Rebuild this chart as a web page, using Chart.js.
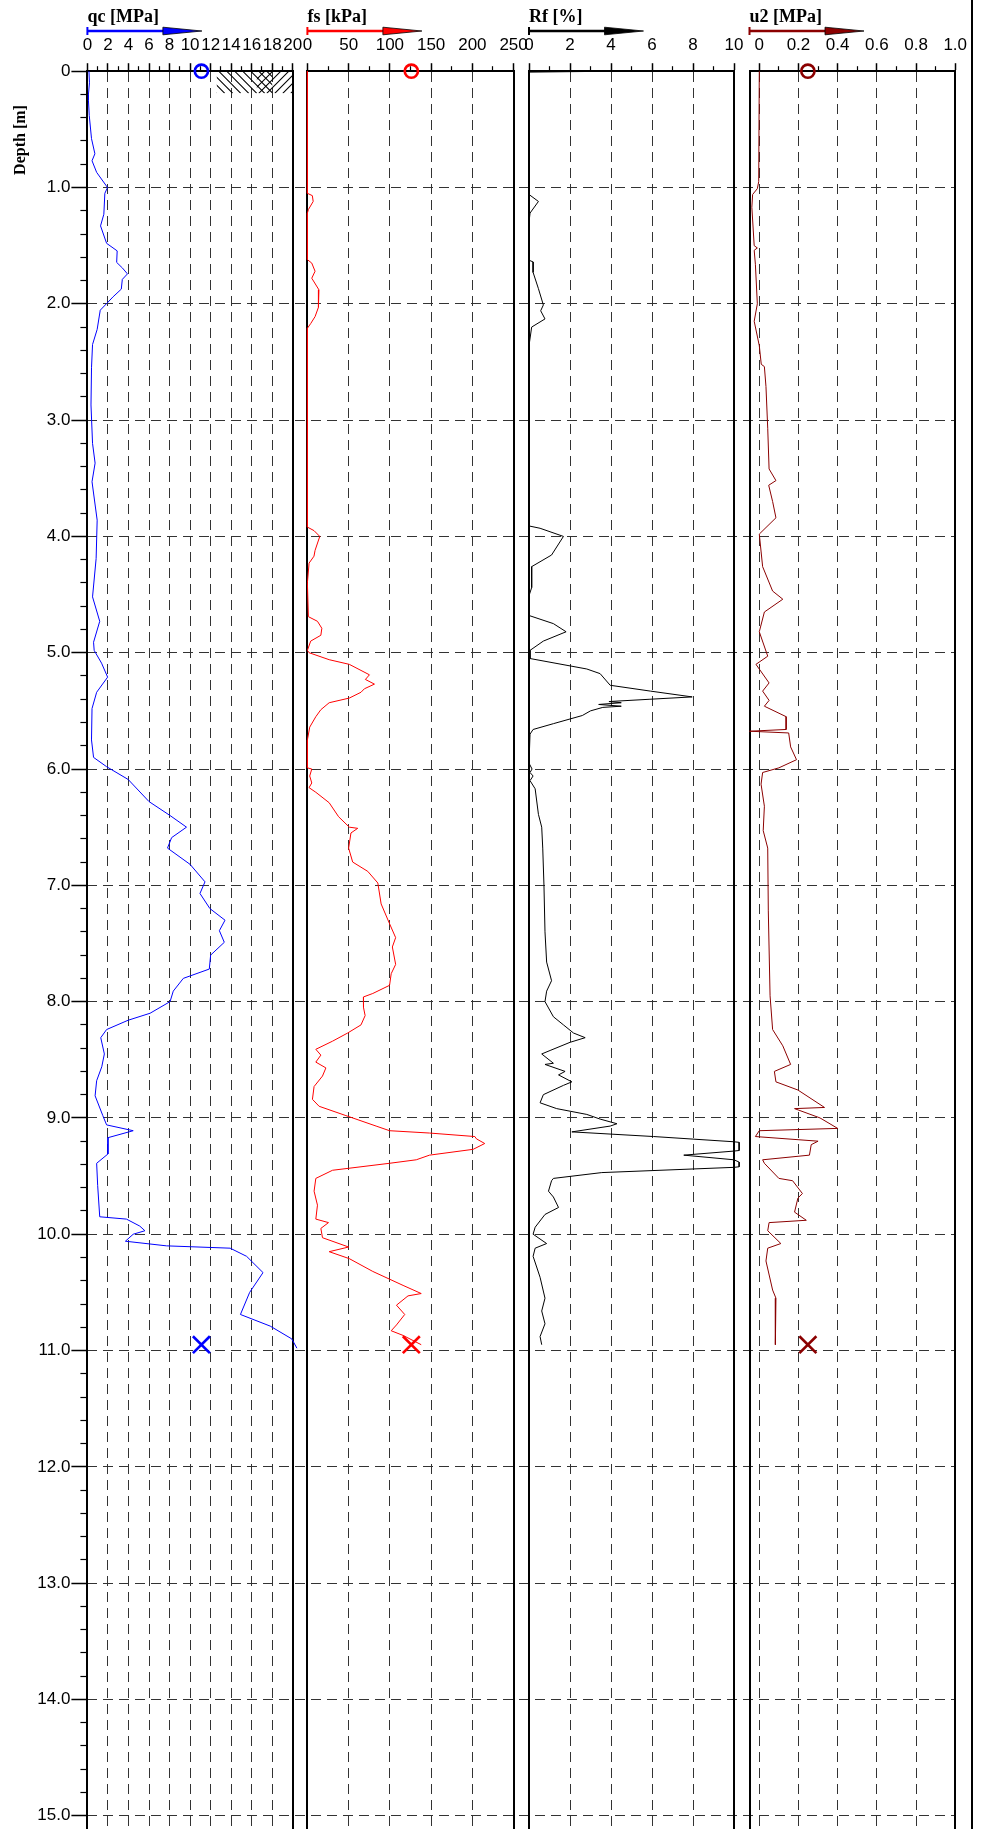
<!DOCTYPE html>
<html>
<head>
<meta charset="utf-8">
<script src="https://cdn.jsdelivr.net/npm/chart.js@4.4.1/dist/chart.umd.min.js"></script>
<style>
html,body{margin:0;padding:0;background:#fff;}
#wrap{position:relative;width:986px;height:1829px;overflow:hidden;background:#fff;}
#wrap canvas{position:absolute;left:0;top:0;}
</style>
</head>
<body>
<div id="wrap">
<canvas id="bg" width="986" height="1829"></canvas>
<canvas id="cQc" width="986" height="1829"></canvas>
<canvas id="cFs" width="986" height="1829"></canvas>
<canvas id="cRf" width="986" height="1829"></canvas>
<canvas id="cU2" width="986" height="1829"></canvas>
</div>
<script>
// ---------------- DATA ----------------
const depthTicks = [0,1,2,3,4,5,6,7,8,9,10,11,12,13,14,15];
const depthMinor = [0.2,0.4,0.6,0.8,1.2,1.4,1.6,1.8,2.2,2.4,2.6,2.8,3.2,3.4,3.6,3.8,4.2,4.4,4.6,4.8,5.2,5.4,5.6,5.8,6.2,6.4,6.6,6.8,7.2,7.4,7.6,7.8,8.2,8.4,8.6,8.8,9.2,9.4,9.6,9.8,10.2,10.4,10.6,10.8,11.2,11.4,11.6,11.8,12.2,12.4,12.6,12.8,13.2,13.4,13.6,13.8,14.2,14.4,14.6,14.8,15.2];

const qcTicks = [0,2,4,6,8,10,12,14,16,18,20];
const qcMinor = [1,3,5,7,9,11,13,15,17,19];
const fsTicks = [0,50,100,150,200,250];
const fsMinor = [25,75,125,175,225];
const rfTicks = [0,2,4,6,8,10];
const rfMinor = [1,3,5,7,9];
const u2Ticks = [0,0.2,0.4,0.6,0.8,1.0];
const u2Minor = [0.1,0.3,0.5,0.7,0.9];

const qcDepth = [0,0.1,0.2,0.25,0.38,0.58,0.71,0.77,0.87,1.0,1.05,1.23,1.33,1.48,1.545,1.644,1.693,1.743,1.79,1.874,1.94,2.0,2.055,2.22,2.35,2.55,2.87,3.2,3.37,3.53,3.86,4.19,4.52,4.73,4.91,4.98,5.09,5.21,5.34,5.48,5.75,5.9,5.98,6.09,6.28,6.4,6.5,6.59,6.68,6.82,6.97,7.07,7.2,7.3,7.39,7.49,7.6,7.72,7.8,7.91,8.0,8.1,8.16,8.24,8.31,8.45,8.56,8.68,8.81,8.98,9.06,9.11,9.17,9.31,9.39,9.58,9.85,9.87,9.93,9.97,10.0,10.06,10.1,10.12,10.19,10.33,10.5,10.69,10.79,10.9,10.98];
const qcValues = [0.15,0.2,0.1,0.1,0.18,0.4,0.73,0.45,0.9,1.96,1.7,1.6,1.28,1.87,2.9,2.85,3.42,3.9,3.4,3.3,2.5,1.85,1.25,0.95,0.5,0.4,0.35,0.5,0.75,0.45,0.95,0.85,0.5,1.2,0.6,0.66,1.38,1.97,0.9,0.45,0.4,0.6,1.87,3.97,6.0,8.05,9.65,8.2,7.8,10.0,11.45,10.96,11.93,13.4,12.85,13.33,12.0,11.87,9.34,8.36,8.05,6.1,3.97,1.87,1.3,1.65,1.4,0.9,0.75,1.5,1.87,4.46,2.0,2.0,0.9,1.0,1.2,3.8,5.1,5.6,4.46,3.7,7.7,13.9,15.5,17.1,15.8,14.9,17.8,19.9,20.4];

const fsDepth = [0,1.05,1.07,1.12,1.19,1.22,1.62,1.65,1.72,1.78,1.88,2.03,2.11,2.17,2.21,3.92,3.95,4.0,4.12,4.17,4.23,4.4,4.69,4.73,4.79,4.85,4.9,4.98,5.0,5.06,5.1,5.19,5.23,5.27,5.31,5.34,5.39,5.43,5.49,5.55,5.64,5.75,5.99,6.0,6.06,6.12,6.16,6.2,6.29,6.41,6.5,6.51,6.55,6.68,6.8,6.88,6.98,7.16,7.33,7.45,7.53,7.68,7.76,7.86,7.93,7.96,8.05,8.12,8.2,8.27,8.34,8.41,8.46,8.52,8.57,8.64,8.73,8.84,8.9,8.98,9.07,9.11,9.13,9.16,9.18,9.22,9.27,9.32,9.36,9.39,9.45,9.52,9.63,9.75,9.87,9.9,9.95,10.03,10.11,10.15,10.21,10.32,10.44,10.51,10.53,10.61,10.69,10.78,10.83,10.87,10.95];
const fsValues = [0,0,6,7,1.2,0,0,5.3,9.3,5.3,14,13.4,9.3,4,0,0,8,15,9.3,8,2,0,1.2,12.2,17.5,16.3,4,0,2,26.4,50.8,75.2,70.3,81.3,69.1,65,50.8,26.4,16.3,10.2,2.8,0,0,5.3,2.8,5.3,2,10.2,26.4,37.8,50.8,61,52.8,50,54.9,73.2,85.4,89.4,99.6,107,103,107,101.6,99.6,79.3,67.9,68,70,65,48.8,30.5,10.2,16.3,10.2,22.4,18.3,8.1,6.1,14.2,46.7,83.3,99.6,148,203,205,215,201,148,132,99.6,30.5,10.2,8.1,12.2,10.2,25.6,16.3,18.3,50,26.4,50.8,79.3,116,138,122,108,118,108,101.6,116,138];

const rfDepth = [0,0.008,1.06,1.12,1.22,1.3,1.625,1.64,1.73,1.87,2.01,2.06,2.13,2.2,2.36,3.91,3.93,4.0,4.16,4.26,4.44,4.51,4.68,4.75,4.82,4.9,4.98,5.05,5.14,5.18,5.28,5.33,5.38,5.4,5.42,5.43,5.445,5.46,5.47,5.5,5.54,5.61,5.66,5.7,5.95,6.0,6.03,6.06,6.1,6.17,6.39,6.5,6.68,7.0,7.4,7.66,7.82,7.91,8.0,8.13,8.2,8.27,8.31,8.35,8.42,8.45,8.53,8.54,8.6,8.63,8.69,8.72,8.8,8.87,8.92,8.97,9.01,9.05,9.07,9.12,9.16,9.205,9.21,9.28,9.285,9.32,9.36,9.38,9.42,9.425,9.47,9.52,9.54,9.63,9.68,9.77,9.83,9.94,10.0,10.08,10.12,10.19,10.37,10.55,10.66,10.77,10.88,10.95];
const rfValues = [4.1,0,0,0.46,0.05,0,0,0.2,0.2,0.46,0.7,0.57,0.78,0.13,0,0,0.54,1.68,1.1,0.13,0.13,0,0,1.19,1.81,0.7,0.05,0.05,2.82,3.47,3.96,5.92,7.96,5.9,3.9,4.5,3.4,4.5,3.6,3.0,2.6,1.19,0.2,0.05,0,0.15,0.05,0.2,0.05,0.3,0.46,0.62,0.67,0.73,0.78,0.86,1.1,0.86,0.78,1.19,1.68,2.17,2.74,2.0,1.03,0.62,1.19,0.78,1.76,1.44,2.09,1.68,0.7,0.54,1.35,2.82,3.47,4.29,3.96,2.09,6.08,10.0,10.25,10.25,10.0,7.55,10.0,10.25,10.25,10.0,3.55,1.19,1.1,0.95,1.19,1.44,0.78,0.3,0.2,0.86,0.3,0.2,0.54,0.78,0.62,0.78,0.54,0.62];

const u2Depth = [0,0.95,1.01,1.06,1.17,1.5,1.52,1.54,1.66,2.0,2.15,2.36,2.52,2.54,2.71,3.07,3.42,3.52,3.56,3.7,3.84,3.98,4.26,4.47,4.54,4.65,4.82,5.03,5.1,5.26,5.33,5.41,5.46,5.55,5.66,5.675,5.69,5.81,5.92,5.99,6.03,6.13,6.32,6.53,6.68,7.22,7.95,8.24,8.38,8.54,8.6,8.69,8.76,8.91,8.92,9.0,9.09,9.11,9.16,9.2,9.23,9.32,9.36,9.39,9.52,9.54,9.65,9.69,9.81,9.88,9.9,9.97,10.08,10.12,10.23,10.48,10.55,10.95];
const u2Values = [0,-0.003,-0.01,-0.034,-0.038,-0.026,-0.01,-0.026,-0.02,-0.01,-0.026,0,0.01,0.026,0.034,0.043,0.05,0.085,0.048,0.068,0.085,0,0.017,0.068,0.12,0.026,0,0.043,-0.017,0.05,0.017,0.05,0.026,0.137,0.137,-0.05,0.15,0.16,0.19,0.1,0.017,0.009,0.026,0.02,0.043,0.046,0.055,0.068,0.12,0.16,0.077,0.085,0.197,0.333,0.18,0.31,0.40,0,-0.02,0.3,0.265,0.256,0.017,0.026,0.1,0.17,0.22,0.197,0.18,0.24,0.05,0.043,0.11,0.043,0.034,0.068,0.085,0.082];

// start (circle) and end (cross) markers
const markDepth = [0, 10.95];
const qcMark = 11.1;
const fsMark = 126;
const u2Mark = 0.248;

// ---------------- LAYOUT / STYLE ----------------
const W = 986, H = 1829;
const TOP = 71.2;
const YMAX = 15.114;
const SANS = '"Liberation Sans", Arial, sans-serif';
const SERIF = '"Liberation Serif", "Times New Roman", serif';
const GRID = '#333';
const DASH = [10, 6];
Chart.defaults.font.family = SANS;

const arrowPlugin = {
  id: 'panelArrow',
  afterDraw(chart, args, opts) {
    if (!opts || !opts.color) return;
    const ctx = chart.ctx, L = chart.chartArea.left;
    const y = 31, len = 114.5, head = 39, hh = 3.8;
    ctx.save();
    ctx.strokeStyle = opts.color;
    ctx.lineWidth = 2.6;
    ctx.beginPath(); ctx.moveTo(L, y); ctx.lineTo(L + len - head + 1, y); ctx.stroke();
    ctx.lineWidth = 2;
    ctx.beginPath(); ctx.moveTo(L, y - 4); ctx.lineTo(L, y + 4); ctx.stroke();
    ctx.fillStyle = opts.color; ctx.strokeStyle = '#000'; ctx.lineWidth = 0.8;
    ctx.beginPath(); ctx.moveTo(L + len - head, y - hh); ctx.lineTo(L + len, y); ctx.lineTo(L + len - head, y + hh); ctx.closePath();
    ctx.fill(); ctx.stroke();
    ctx.restore();
  }
};

const hatchPlugin = {
  id: 'hatch',
  afterDatasetsDraw(chart, args, opts) {
    if (!opts || !opts.zones) return;
    const xs = chart.scales.x, ys = chart.scales.y, ctx = chart.ctx;
    for (const z of opts.zones) {
      const x0 = xs.getPixelForValue(z.x0), x1 = xs.getPixelForValue(z.x1);
      const y0 = ys.getPixelForValue(z.d0), y1 = ys.getPixelForValue(z.d1);
      const h = y1 - y0, step = 8;
      ctx.save();
      ctx.beginPath(); ctx.rect(x0, y0, x1 - x0, h); ctx.clip();
      ctx.strokeStyle = '#000'; ctx.lineWidth = 1.1;
      ctx.beginPath();
      for (let s = x0 - h; s < x1 + h; s += step) {
        if (z.dir > 0) { ctx.moveTo(s, y0); ctx.lineTo(s + h, y1); }
        else { ctx.moveTo(s + h, y0); ctx.lineTo(s, y1); }
      }
      ctx.stroke();
      ctx.restore();
    }
  }
};

const bgDecor = {
  id: 'bgDecor',
  afterDraw(chart, args, opts) {
    const ctx = chart.ctx;
    ctx.save();
    ctx.strokeStyle = '#000'; ctx.lineWidth = 2;
    ctx.beginPath(); ctx.moveTo(opts.frameX, 0); ctx.lineTo(opts.frameX, chart.height); ctx.stroke();
    ctx.translate(opts.titleX, opts.titleY); ctx.rotate(-Math.PI / 2);
    ctx.font = 'bold 16px ' + SERIF; ctx.fillStyle = '#000';
    ctx.textAlign = 'center'; ctx.textBaseline = 'middle';
    ctx.fillText(opts.title, 0, 0);
    ctx.restore();
  }
};

function lineDs(vals, depths, color) {
  return { data: vals.map((v, i) => ({x: v, y: depths[i]})), showLine: true, borderColor: color,
    borderWidth: 1, pointRadius: 0, pointHoverRadius: 0, fill: false, tension: 0, clip: false,
    xAxisID: 'x', yAxisID: 'y' };
}
function markDs(xv, color) {
  return [
    { data: [{x: xv, y: markDepth[0]}], showLine: false, pointStyle: 'circle', pointRadius: 6.6,
      borderWidth: 2.6, borderColor: color, backgroundColor: 'rgba(0,0,0,0)', clip: false, xAxisID: 'x', yAxisID: 'y' },
    { data: [{x: xv, y: markDepth[1]}], showLine: false, pointStyle: 'crossRot', pointRadius: 12,
      borderWidth: 2.6, borderColor: color, clip: false, xAxisID: 'x', yAxisID: 'y' }
  ];
}

const baseOpts = {responsive: false, animation: false, devicePixelRatio: 1, events: []};

function depthAxis(pos) {
  return { type: 'linear', axis: 'y', position: pos, reverse: true, min: 0, max: YMAX,
    ticks: {display: false}, grid: {drawOnChartArea: false, drawTicks: false},
    border: {display: true, width: 2, color: '#000'},
    afterFit: s => { s.width = 0; s.paddingTop = 0; s.paddingBottom = 0; } };
}

function panelChart(id, cfg) {
  const isEdge = v => Math.abs(v - cfg.min) < 1e-9 || Math.abs(v - cfg.max) < 1e-9;
  return new Chart(document.getElementById(id), {
    type: 'scatter',
    data: {datasets: cfg.datasets},
    plugins: [arrowPlugin, hatchPlugin],
    options: Object.assign({}, baseOpts, {
      layout: {autoPadding: false, padding: {left: cfg.left, right: W - cfg.right, top: 0, bottom: 0}},
      plugins: {legend: {display: false}, tooltip: {enabled: false},
        panelArrow: {color: cfg.arrowColor}, hatch: cfg.hatch || {}},
      scales: {
        x: { type: 'linear', axis: 'x', position: 'top', weight: 1, min: cfg.min, max: cfg.max,
          afterBuildTicks: s => { s.ticks = cfg.ticks.map(v => ({value: v})); },
          afterFit: s => { s.height = TOP; s.paddingLeft = 0; s.paddingRight = 0; },
          ticks: {autoSkip: false, maxRotation: 0, minRotation: 0, padding: 7.5, color: '#000',
            font: {family: SANS, size: 17}, callback: cfg.fmt},
          grid: { color: c => (c.tick && isEdge(c.tick.value)) ? 'rgba(0,0,0,0)' : GRID,
            lineWidth: 1, tickLength: 8, tickColor: '#000', tickWidth: 1.5, tickBorderDash: [], drawOnChartArea: true },
          border: {display: true, width: 2, color: '#000', dash: DASH},
          title: {display: true, text: cfg.title, align: 'start', color: '#000',
            font: {family: SERIF, size: 18, weight: 'bold'}, padding: {top: 6.4, bottom: 0}} },
        xm: { type: 'linear', axis: 'x', position: 'top', weight: 0, min: cfg.min, max: cfg.max,
          afterBuildTicks: s => { s.ticks = cfg.minor.map(v => ({value: v})); },
          afterFit: s => { s.height = 0; s.paddingLeft = 0; s.paddingRight = 0; },
          ticks: {display: false},
          grid: {drawOnChartArea: false, tickLength: 5, tickColor: '#000', tickWidth: 1.2, tickBorderDash: []},
          border: {display: false} },
        y: depthAxis('left'),
        yr: depthAxis('right')
      }
    })
  });
}

// ---------------- BACKGROUND (depth axis + horizontal grid) ----------------
new Chart(document.getElementById('bg'), {
  type: 'scatter',
  data: {datasets: []},
  plugins: [bgDecor],
  options: Object.assign({}, baseOpts, {
    layout: {autoPadding: false, padding: {left: 0, right: W - 955.2, top: TOP, bottom: 0}},
    plugins: {legend: {display: false}, tooltip: {enabled: false},
      bgDecor: {frameX: 972, titleX: 21, titleY: 140, title: 'Depth [m]'}},
    scales: {
      x: {type: 'linear', display: false, min: 0, max: 1},
      y: { type: 'linear', axis: 'y', position: 'left', weight: 1, reverse: true, min: 0, max: YMAX,
        afterBuildTicks: s => { s.ticks = depthTicks.map(v => ({value: v})); },
        afterFit: s => { s.width = 87.4; s.paddingTop = 0; s.paddingBottom = 0; },
        ticks: {autoSkip: false, padding: 1, color: '#000', font: {family: SANS, size: 17},
          callback: v => v === 0 ? '0' : v.toFixed(1)},
        grid: { color: c => (c.tick && c.tick.value === 0) ? 'rgba(0,0,0,0)' : GRID,
          lineWidth: 1, tickLength: 16, tickColor: '#000', tickWidth: 1.5, tickBorderDash: [] },
        border: {display: false, dash: DASH} },
      ym: { type: 'linear', axis: 'y', position: 'left', weight: 0, reverse: true, min: 0, max: YMAX,
        afterBuildTicks: s => { s.ticks = depthMinor.map(v => ({value: v})); },
        afterFit: s => { s.width = 0; s.paddingTop = 0; s.paddingBottom = 0; },
        ticks: {display: false},
        grid: {drawOnChartArea: false, tickLength: 7, tickColor: '#000', tickWidth: 1.2, tickBorderDash: []},
        border: {display: false} }
    }
  })
});

// ---------------- PANELS ----------------
panelChart('cQc', {
  left: 87.4, right: 292.8, min: 0, max: 20, ticks: qcTicks, minor: qcMinor,
  fmt: v => String(v), title: 'qc [MPa]', arrowColor: '#0000ff',
  hatch: {zones: [{x0: 12.6, x1: 18.0, d0: 0, d1: 0.19, dir: 1}, {x0: 16.5, x1: 20, d0: 0, d1: 0.19, dir: -1}]},
  datasets: [lineDs(qcValues, qcDepth, '#0000ff')].concat(markDs(qcMark, '#0000ff'))
});
panelChart('cFs', {
  left: 307.4, right: 513.6, min: 0, max: 250, ticks: fsTicks, minor: fsMinor,
  fmt: v => String(v), title: 'fs [kPa]', arrowColor: '#ff0000',
  datasets: [lineDs(fsValues, fsDepth, '#ff0000')].concat(markDs(fsMark, '#ff0000'))
});
panelChart('cRf', {
  left: 529, right: 734, min: 0, max: 10, ticks: rfTicks, minor: rfMinor,
  fmt: v => String(v), title: 'Rf [%]', arrowColor: '#000000',
  datasets: [lineDs(rfValues, rfDepth, '#000000')]
});
panelChart('cU2', {
  left: 749.5, right: 955.2, min: -0.05, max: 1.0, ticks: u2Ticks, minor: u2Minor,
  fmt: v => v === 0 ? '0' : v.toFixed(1), title: 'u2 [MPa]', arrowColor: '#8b0000',
  datasets: [lineDs(u2Values, u2Depth, '#8b0000')].concat(markDs(u2Mark, '#8b0000'))
});
</script>
</body>
</html>
